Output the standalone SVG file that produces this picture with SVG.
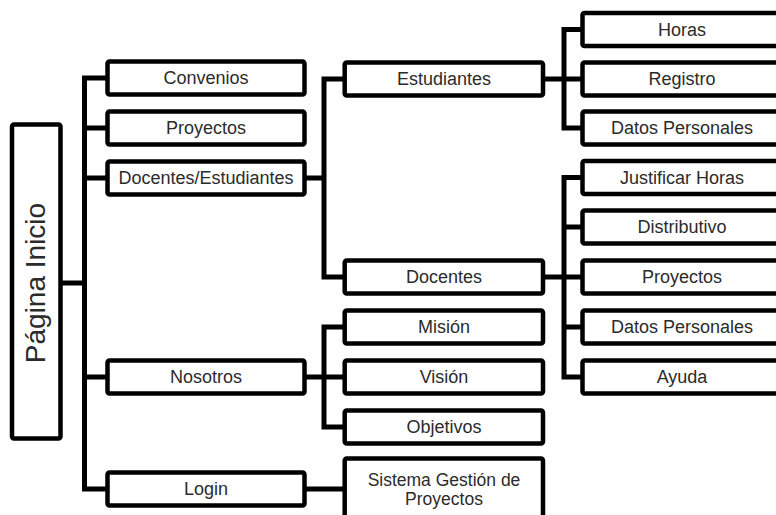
<svg xmlns="http://www.w3.org/2000/svg" width="776" height="515" viewBox="0 0 776 515">
<style>
.b{fill:#fff;stroke:#000;stroke-width:4.5;}
.t{font-family:"Liberation Sans",Arial,sans-serif;font-size:18px;fill:#2b2b2b;text-anchor:middle;}
.s{font-size:17.5px;}
.c{fill:none;stroke:#000;stroke-width:5;stroke-linejoin:miter;stroke-linecap:butt;}
</style>
<rect width="776" height="515" fill="#fff"/>
<g id="connectors">
<path class="c" d="M60 283H84.5M107.5 78H84.5V489H107.5M84.5 128H107.5M84.5 178H107.5M84.5 377H107.5"/>
<path class="c" d="M304.5 178H324M344.7 79H324V277H344.7"/>
<path class="c" d="M304.5 377H344.7M344.7 327H324V427H344.7"/>
<path class="c" d="M304.5 489H344.7"/>
<path class="c" d="M543 79H582.5M582.5 29.5H564V128H582.5"/>
<path class="c" d="M543 277H582.5M582.5 177.5H564V377H582.5M564 227H582.5M564 327H582.5"/>
</g>
<g id="root"><rect class="b" x="12" y="124.5" width="48.5" height="314" rx="2"/><text class="t" style="font-size:28px" transform="translate(45,283) rotate(-90)">Página Inicio</text></g>
<g id="convenios"><rect class="b" x="107.5" y="61.5" width="197" height="33" rx="2"/><text class="t" x="206" y="84.4">Convenios</text></g>
<g id="proyectos1"><rect class="b" x="107.5" y="111.5" width="197" height="33" rx="2"/><text class="t" x="206" y="134.4">Proyectos</text></g>
<g id="docest"><rect class="b" x="107.5" y="161.5" width="197" height="33" rx="2"/><text class="t" x="206" y="184.4">Docentes/Estudiantes</text></g>
<g id="nosotros"><rect class="b" x="107.5" y="360.5" width="197" height="33" rx="2"/><text class="t" x="206" y="383.4">Nosotros</text></g>
<g id="login"><rect class="b" x="107.5" y="472.5" width="197" height="33" rx="2"/><text class="t" x="206" y="495.4">Login</text></g>
<g id="estudiantes"><rect class="b" x="344.7" y="62.5" width="198.3" height="33" rx="2"/><text class="t" x="444" y="85.4">Estudiantes</text></g>
<g id="docentes"><rect class="b" x="344.7" y="260.5" width="198.3" height="33" rx="2"/><text class="t" x="444" y="283.4">Docentes</text></g>
<g id="mision"><rect class="b" x="344.7" y="310.5" width="198.3" height="33" rx="2"/><text class="t" x="444" y="333.4">Misión</text></g>
<g id="vision"><rect class="b" x="344.7" y="360.5" width="198.3" height="33" rx="2"/><text class="t" x="444" y="383.4">Visión</text></g>
<g id="objetivos"><rect class="b" x="344.7" y="410.5" width="198.3" height="33" rx="2"/><text class="t" x="444" y="433.4">Objetivos</text></g>
<g id="sistema"><rect class="b" x="344.7" y="458.5" width="198.3" height="80" rx="2"/><text class="t s" x="444" y="486">Sistema Gestión de</text><text class="t s" x="444" y="505">Proyectos</text></g>
<g id="horas"><rect class="b" x="582.5" y="13" width="198" height="33" rx="2"/><text class="t" x="682" y="35.9">Horas</text></g>
<g id="registro"><rect class="b" x="582.5" y="62.5" width="198" height="33" rx="2"/><text class="t" x="682" y="85.4">Registro</text></g>
<g id="datos1"><rect class="b" x="582.5" y="111.5" width="198" height="33" rx="2"/><text class="t" x="682" y="134.4">Datos Personales</text></g>
<g id="justificar"><rect class="b" x="582.5" y="161" width="198" height="33" rx="2"/><text class="t" x="682" y="183.9">Justificar Horas</text></g>
<g id="distributivo"><rect class="b" x="582.5" y="210.5" width="198" height="33" rx="2"/><text class="t" x="682" y="233.4">Distributivo</text></g>
<g id="proyectos2"><rect class="b" x="582.5" y="260.5" width="198" height="33" rx="2"/><text class="t" x="682" y="283.4">Proyectos</text></g>
<g id="datos2"><rect class="b" x="582.5" y="310.5" width="198" height="33" rx="2"/><text class="t" x="682" y="333.4">Datos Personales</text></g>
<g id="ayuda"><rect class="b" x="582.5" y="360.5" width="198" height="33" rx="2"/><text class="t" x="682" y="383.4">Ayuda</text></g>
</svg>
